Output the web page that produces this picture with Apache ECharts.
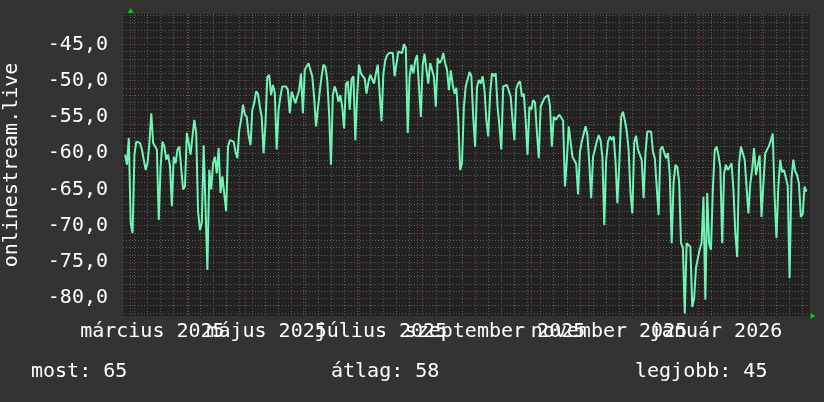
<!DOCTYPE html>
<html><head><meta charset="utf-8">
<script src="https://cdn.jsdelivr.net/npm/echarts@6/dist/echarts.min.js"></script>
<style>html,body{margin:0;padding:0;background:#333333;}#c{width:824px;height:402px;}</style>
</head><body><div id="c"></div>
<script>
// days are counted from 2025-03-01 (day 0)
const firstDay = -3;
const segA = [ // days -3..69
-60.2,-61.6,-57.9,-69.6,-71.0,-60.2,-58.4,-58.4,-58.6,-59.5,
-59.3,-62.3,-61.4,-58.6,-54.5,-58.6,-58.6,-59.5,-69.2,-61.8,
-58.4,-59.1,-60.9,-60.2,-61.8,-67.3,-60.5,-61.4,-59.5,-59.1,
-59.3,-65.0,-64.6,-57.2,-58.6,-60.2,-57.7,-55.4,-57.2,-68.0,
-70.6,-69.6,-58.9,-59.1,-76.1,-62.3,-65.0,-61.4,-60.5,-62.8,
-59.3,-65.5,-63.2,-63.0,-68.0,-59.1,-58.2,-58.2,-58.4,-59.8,
-60.7,-56.8,-55.4,-53.3,-54.7,-55.0,-57.5,-58.9,-54.0,-53.1,
-51.5,-51.8,-53.6];
const segB = [ // days 70..142
-55.0,-60.0,-56.0,-49.5,-49.2,-52.0,-50.6,-51.7,-59.5,-54.0,
-52.2,-50.8,-50.6,-50.8,-51.3,-54.5,-51.5,-51.3,-53.1,-53.1,
-51.3,-49.0,-54.5,-48.5,-48.5,-47.6,-48.5,-49.4,-52.2,-56.3,
-56.3,-51.5,-49.4,-47.8,-48.1,-49.9,-54.5,-61.6,-52.0,-50.8,
-51.6,-52.9,-52.0,-53.6,-56.6,-50.5,-50.1,-54.0,-49.8,-49.4,
-58.2,-52.0,-47.8,-49.0,-49.4,-49.7,-51.8,-50.2,-49.2,-49.4,
-50.4,-49.0,-47.8,-47.6,-55.6,-49.0,-47.2,-46.5,-46.2,-46.0,
-46.2,-49.4,-49.4];
const segC = [ // days 143..216
-46.0,-45.8,-46.2,-45.0,-45.5,-57.2,-49.4,-47.8,-49.0,-47.2,
-46.5,-46.3,-55.0,-47.8,-46.3,-48.5,-50.4,-47.6,-48.5,-49.5,
-53.6,-46.9,-47.6,-47.2,-46.2,-47.6,-48.5,-51.3,-48.6,-50.5,
-51.8,-51.0,-55.4,-62.3,-61.4,-53.6,-50.8,-50.6,-48.8,-49.4,
-55.0,-59.1,-50.9,-49.9,-50.4,-49.4,-51.3,-55.4,-57.7,-52.0,
-49.0,-49.4,-49.0,-53.6,-56.3,-59.5,-50.8,-50.8,-50.6,-50.4,
-52.2,-55.4,-58.2,-51.1,-50.4,-50.1,-52.2,-51.8,-55.4,-60.2,
-53.6,-54.0,-52.7,-53.0];
const segD = [ // days 217..290
-57.0,-60.7,-53.6,-53.6,-52.4,-52.2,-52.0,-53.5,-59.1,-55.0,
-55.4,-55.6,-54.7,-54.5,-55.5,-64.6,-61.0,-56.3,-56.1,-60.5,
-60.7,-61.5,-65.7,-59.8,-58.4,-58.2,-56.3,-57.5,-61.4,-66.2,
-60.5,-59.5,-58.4,-57.5,-58.2,-60.5,-69.9,-61.0,-58.4,-57.7,
-58.2,-57.7,-61.1,-66.9,-61.6,-55.0,-54.3,-55.5,-57.0,-59.5,
-65.5,-68.3,-58.5,-57.6,-59.5,-60.2,-61.0,-66.2,-60.0,-57.0,
-56.8,-57.0,-59.8,-60.7,-64.6,-68.5,-59.5,-59.1,-59.3,-60.7,
-60.0,-63.0,-72.4,-64.2];
const segE = [ // days 291..361
-61.6,-61.9,-64.0,-72.4,-73.0,-82.1,-72.4,-72.2,-72.9,-81.2,
-80.0,-75.8,-74.5,-73.2,-72.4,-66.0,-80.2,-65.5,-72.4,-73.3,
-65.0,-59.6,-59.1,-60.3,-62.0,-72.4,-62.8,-61.6,-62.3,-61.9,
-61.4,-65.0,-71.0,-74.3,-61.5,-59.1,-59.1,-60.9,-61.0,-68.3,
-64.2,-62.3,-59.3,-63.0,-63.2,-60.3,-68.8,-64.2,-60.0,-60.2,
-59.0,-58.2,-57.3,-66.0,-71.7,-64.5,-60.9,-62.6,-62.3,-62.5,
-64.5,-77.2,-63.5,-60.9,-62.5,-63.0,-64.2,-68.8,-68.4,-64.6,
-65.3];

const monthStartDays = [0,31,61,92,122,153,184,214,245,275,306,337];
const firstMonday = 2;
const labelDays = [11.6, 72.6, 133.7, 194.6, 255.5, 312.7];
const labelTexts = ['március 2025','május 2025','július 2025','szeptember 2025','november 2025','január 2026'];
const yMajorTicks = [-80,-75,-70,-65,-60,-55,-50,-45];
const yMinorStep = 1;
const statNames = ['most','átlag','legjobb'];
const statValues = [65, 58, 45];
const axisTitle = 'onlinestream.live';

const xMin = -4.1, xMax = 362.9, yMin = -82.44, yMax = -40.82;
const FONT = 'DejaVu Sans Mono';

const values = [].concat(segA, segB, segC, segD, segE);
const points = values.map((v, i) => [firstDay + i, v]);

const weekDays = [];
for (let d = firstMonday; d <= xMax; d += 7) if (monthStartDays.indexOf(d) < 0) weekDays.push(d);
const yMinor = [];
for (let v = Math.ceil(yMin); v <= yMax; v += yMinorStep) if (yMajorTicks.indexOf(v) < 0) yMinor.push(v);

const GRAY = '#5a5a5a', RED = '#8a3a3a';
const dash = [1, 2];
const labelA = labelDays.filter((d, i) => i % 2 === 0);
const labelB = labelDays.filter((d, i) => i % 2 === 1);
const fmtX = v => { const i = labelDays.findIndex(d => Math.abs(d - v) < 0.01); return i >= 0 ? labelTexts[i] : ''; };
const txt = {color: '#ffffff', fontFamily: FONT, fontSize: 20};

function xAxisDef(ticks, labels, color, withArrow) {
  return {
    type: 'value', min: xMin, max: xMax, position: 'bottom',
    axisLine: withArrow
      ? {show: true, symbol: ['none', 'triangle'], symbolSize: [6, 5], symbolOffset: [0, 3], lineStyle: {color: '#00cc00', width: 0}}
      : {show: false},
    axisTick: {show: false, customValues: ticks},
    splitLine: {show: true, lineStyle: {color: color, type: dash, width: 1}},
    axisLabel: Object.assign({customValues: labels, showMinLabel: true, showMaxLabel: true, hideOverlap: false, margin: 6, formatter: fmtX}, txt)
  };
}
function yAxisDef(ticks, color, main) {
  const def = {
    type: 'value', min: yMin, max: yMax, position: 'left',
    axisTick: {show: false, customValues: ticks},
    splitLine: {show: true, lineStyle: {color: color, type: dash, width: 1}},
    axisLine: {show: false},
    axisLabel: {show: false}
  };
  if (main) {
    Object.assign(def, {
      name: axisTitle, nameLocation: 'middle', nameRotate: 90, nameGap: 101, nameTextStyle: txt,
      axisLine: {show: true, symbol: ['none', 'triangle'], symbolSize: [6, 5], symbolOffset: [0, 3.5], lineStyle: {color: '#00cc00', width: 0}},
      axisLabel: Object.assign({customValues: ticks, showMinLabel: true, showMaxLabel: true, margin: 15,
        formatter: v => v.toFixed(1).replace('.', ',')}, txt)
    });
  }
  return def;
}

const chart = echarts.init(document.getElementById('c'), null, {renderer: 'canvas'});
chart.setOption({
  backgroundColor: '#333333',
  animation: false,
  title: statNames.map((n, i) => ({
    text: n + ': ' + statValues[i],
    left: [31, 331, 635][i], top: 362, padding: 0,
    textStyle: Object.assign({fontWeight: 'normal', lineHeight: 20}, txt)
  })),
  grid: {left: 123, right: 14, top: 14, bottom: 86, show: true, backgroundColor: '#222222', borderWidth: 0,
         containLabel: false, outerBoundsMode: 'none'},
  xAxis: [xAxisDef(weekDays, labelB, GRAY, false), xAxisDef(monthStartDays, labelA, RED, true)],
  yAxis: [yAxisDef(yMinor, GRAY, false), yAxisDef(yMajorTicks, RED, true)],
  series: [
    {type: 'line', data: points, showSymbol: false, symbol: 'none', z: 3, xAxisIndex: 1, yAxisIndex: 1,
     lineStyle: {color: '#6ff5b5', width: 2}}
  ]
});
</script></body></html>
